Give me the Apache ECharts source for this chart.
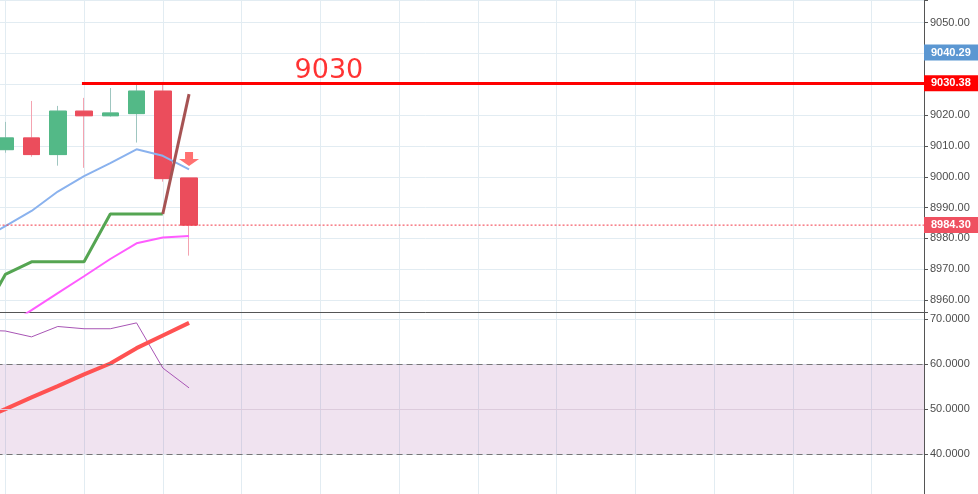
<!DOCTYPE html>
<html><head><meta charset="utf-8">
<script src="https://cdn.jsdelivr.net/npm/echarts@6/dist/echarts.min.js"></script>
<style>html,body{margin:0;padding:0;background:#fff;overflow:hidden;width:978px;height:494px;position:relative}
#c{position:absolute;left:-74px;top:0;width:1052px;height:494px}</style>
</head><body><div id="c"></div>
<script>
// ---- data ----
const candleIdx   = [0, 1, 2, 3, 4, 5, 6, 7];
const candleOpen  = [9008.8, 9012.6, 9007.2, 9021.3, 9019.8, 9020.5, 9027.8, 8999.6];
const candleClose = [9012.6, 9007.2, 9021.3, 9019.8, 9020.7, 9027.8, 8999.4, 8984.3];
const candleLow   = [9007.8, 9006.5, 9003.6, 9002.9, 9019.5, 9011.1, 8998.4, 8974.4];
const candleHigh  = [9017.8, 9024.6, 9023.0, 9025.6, 9028.8, 9029.8, 9030.8, 8999.6];

const lineIdx     = [-1, 0, 1, 2, 3, 4, 5, 6, 7];
const blueLine    = [8979, 8984.0, 8988.9, 8995.2, 9000.2, 9004.4, 9008.9, 9006.8, 9002.4];
const greenLine   = [8953, 8968.3, 8972.4, 8972.4, 8972.4, 8987.9, 8987.9, 8987.9, null];
const magentaLine = [null, 8951.3, 8956.7, 8962.2, 8967.7, 8973.3, 8978.4, 8980.3, 8980.8];
const brownLine   = [null, null, null, null, null, null, null, 8987.9, 9026.8];

const rsiPurple   = [67.5, 67.3, 66.0, 68.3, 67.8, 67.8, 69.1, 59.1, 54.7];
const rsiRed      = [47.5, 50.0, 52.6, 55.1, 57.7, 60.1, 63.5, 66.3, 69.1];

const levelPrice = 9030.38, levelStartX = 2.92;
const lastPrice = 8984.30;
const upperLabel = 9040.29;
const noteText = '9030', noteX = 12.33, noteY = 9034.3;
const signalX = 7, signalY = 9005.8;
const rsiBand = [40, 60], rsiMid = 50;
const xRange = [-3, 35];

// ---- chart ----
const UP = '#53b987', DOWN = '#eb4d5c', UPW = '#9fc6c0', DOWNW = '#f4a3b0';
const pair = (a) => lineIdx.map((x, i) => [x, a[i]]);
const wickData = candleIdx.map((x, i) => [x, candleOpen[i], candleClose[i], candleLow[i], candleHigh[i]]);
const bodyData = candleIdx.map((x, i) => [x, candleOpen[i], candleClose[i],
  Math.min(candleOpen[i], candleClose[i]), Math.max(candleOpen[i], candleClose[i])]);
const lblFont = {fontFamily: 'Liberation Sans, Arial, sans-serif', fontSize: 11, color: '#4d4d4d'};
const gridCol = '#e2ecf2';
const xAx = (gi) => ({type: 'value', gridIndex: gi, min: xRange[0], max: xRange[1], interval: 3,
  axisLine: {show: gi === 0, onZero: false, lineStyle: {color: '#555', width: 1}}, axisTick: {show: false},
  axisLabel: {show: false}, splitLine: {show: true, lineStyle: {color: gridCol}}});
const tagLabel = (bg, txt) => ({show: true, position: 'end', distance: 0, formatter: txt,
  backgroundColor: bg, color: '#fff', fontWeight: 'bold', fontFamily: 'Liberation Sans, Arial, sans-serif',
  fontSize: 11, lineHeight: 12, padding: [2, 10, 2, 7]});
const yAx = (gi, min, max, split, dec) => ({type: 'value', gridIndex: gi, position: 'right', min: min, max: max,
  splitNumber: split, scale: true,
  axisLine: {show: true, onZero: false, lineStyle: {color: '#555'}},
  axisTick: {show: true, length: 4, lineStyle: {color: '#555'}},
  axisLabel: Object.assign({margin: 6, formatter: v => (Math.abs(v % 10) < 1e-6 ? v.toFixed(dec) : '')}, lblFont),
  splitLine: {show: true, lineStyle: {color: gridCol}}});
const hidden = {silent: true, symbol: ['none', 'none'], z: 10, lineStyle: {color: 'rgba(0,0,0,0)', width: 0}};

const option = {
  animation: false,
  backgroundColor: '#fff',
  grid: [
    {left: 0.55, right: 54, top: 0, height: 312.5},
    {left: 0.55, right: 54, top: 312.5, bottom: 0}
  ],
  xAxis: [xAx(0), xAx(1)],
  yAxis: [yAx(0, 8955.94, 9057.37, 10, 2), yAx(1, 31.18, 71.4, 4, 4)],
  series: [
    {type: 'line', xAxisIndex: 0, yAxisIndex: 0, data: pair(blueLine), showSymbol: false,
     lineStyle: {color: '#8ab2ee', width: 2}},
    {type: 'line', xAxisIndex: 0, yAxisIndex: 0, data: xRange.map(x => [x, lastPrice]), showSymbol: false,
     lineStyle: {color: '#f23645', width: 1, type: [2, 2]},
     markLine: Object.assign({data: [{yAxis: lastPrice, label: tagLabel('#ef5060', lastPrice.toFixed(2))}]}, hidden)},
    {type: 'candlestick', xAxisIndex: 0, yAxisIndex: 0, data: wickData, encode: {x: 0, y: [1, 2, 3, 4]},
     barWidth: 17, itemStyle: {color: UPW, color0: DOWNW, borderColor: UPW, borderColor0: DOWNW, borderWidth: 1}},
    {type: 'candlestick', xAxisIndex: 0, yAxisIndex: 0, data: bodyData, encode: {x: 0, y: [1, 2, 3, 4]},
     barWidth: 17, itemStyle: {color: UP, color0: DOWN, borderColor: UP, borderColor0: DOWN, borderWidth: 1}},
    {type: 'line', xAxisIndex: 0, yAxisIndex: 0, data: pair(greenLine), showSymbol: false,
     lineStyle: {color: '#55a552', width: 3},
     markLine: {silent: true, symbol: ['none', 'none'], z: 10,
       lineStyle: {color: '#ff0000', width: 3, type: 'solid'},
       data: [[{coord: [levelStartX, levelPrice], label: tagLabel('#ff0000', levelPrice.toFixed(2))},
               {coord: [xRange[1], levelPrice]}]]}},
    {type: 'line', xAxisIndex: 0, yAxisIndex: 0, data: pair(magentaLine), showSymbol: false,
     lineStyle: {color: '#ff5cff', width: 2},
     markLine: Object.assign({data: [{yAxis: upperLabel, label: tagLabel('#5b97d2', upperLabel.toFixed(2))}]}, hidden)},
    {type: 'line', xAxisIndex: 0, yAxisIndex: 0, data: pair(brownLine), showSymbol: false,
     lineStyle: {color: '#a65353', width: 3}},
    {type: 'scatter', xAxisIndex: 0, yAxisIndex: 0, data: [[signalX, signalY]],
     symbol: 'path://M3,0 L7,0 L7,5 L10,5 L5,10 L0,5 L3,5 Z', symbolSize: [20, 14],
     itemStyle: {color: '#ff4d4d'}},
    {type: 'scatter', xAxisIndex: 0, yAxisIndex: 0, data: [[noteX, noteY]], symbolSize: 0,
     label: {show: true, position: 'inside', formatter: noteText, color: '#ff0000',
       fontFamily: 'DejaVu Sans', fontSize: 27}},
    {type: 'line', xAxisIndex: 1, yAxisIndex: 1, data: pair(rsiPurple), showSymbol: false,
     lineStyle: {color: '#a855b5', width: 1},
     markArea: {silent: true, itemStyle: {color: 'rgba(140,40,140,0.13)'}, data: [[{yAxis: rsiBand[0]}, {yAxis: rsiBand[1]}]]},
     markLine: {silent: true, symbol: ['none', 'none'], label: {show: false}, data: [
       {yAxis: rsiBand[0], lineStyle: {color: '#777', width: 1, type: [6, 4]}},
       {yAxis: rsiBand[1], lineStyle: {color: '#777', width: 1, type: [6, 4]}},
       {yAxis: rsiMid, lineStyle: {color: '#dccbdc', width: 1, type: 'solid'}}
     ]}},
    {type: 'line', xAxisIndex: 1, yAxisIndex: 1, data: pair(rsiRed), showSymbol: false,
     lineStyle: {color: '#ff5252', width: 4}}
  ]
};
const chart = echarts.init(document.getElementById('c'), null, {renderer: 'canvas'});
chart.setOption(option);
</script>
</body></html>
